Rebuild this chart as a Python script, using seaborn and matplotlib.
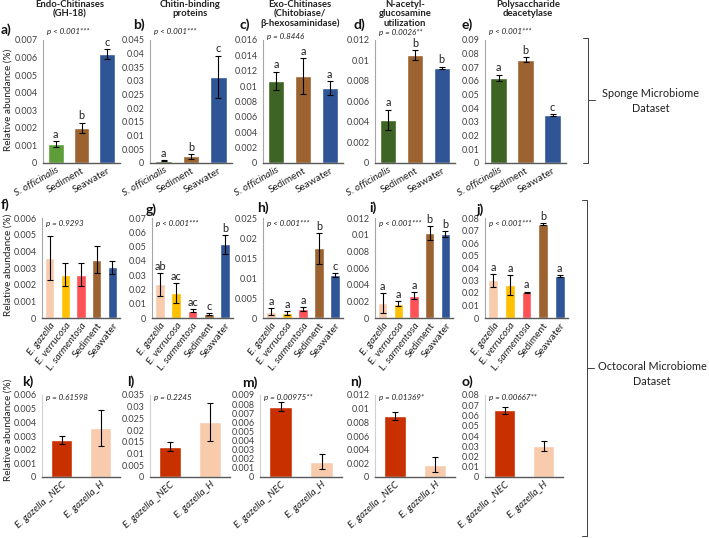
import matplotlib
matplotlib.use("Agg")
import matplotlib.pyplot as plt
import numpy as np
import seaborn as sns

sns.set_style("white")
plt.rcParams['font.family'] = ['Lato', 'DejaVu Sans']

# ---- data ----
sponge_cats = ["S. officinalis", "Sediment", "Seawater"]
octo_cats = ["E. gazella", "E. verrucosa", "L. sarmentosa", "Sediment", "Seawater"]
nec_cats = ["E. gazella _NEC", "E. gazella_H"]

a_vals = [0.00108, 0.0020, 0.0062]
a_errs = [0.00015, 0.0003, 0.0003]
b_vals = [0.0009, 0.0024, 0.0316]
b_errs = [0.0002, 0.0008, 0.0077]
c_vals = [0.0107, 0.0113, 0.0098]
c_errs = [0.0012, 0.0023, 0.0009]
d_vals = [0.0042, 0.0105, 0.0093]
d_errs = [0.0010, 0.0005, 0.0001]
e_vals = [0.0622, 0.0757, 0.0352]
e_errs = [0.0025, 0.0020, 0.0005]

f_vals = [0.0036, 0.0026, 0.0026, 0.0035, 0.00305]
f_errs = [0.0013, 0.0007, 0.0007, 0.0008, 0.0004]
g_vals = [0.0235, 0.0175, 0.0050, 0.0025, 0.0515]
g_errs = [0.0080, 0.0070, 0.0010, 0.0007, 0.0065]
h_vals = [0.0016, 0.0013, 0.0023, 0.0174, 0.0108]
h_errs = [0.0009, 0.0005, 0.0005, 0.0039, 0.0005]
i_vals = [0.0018, 0.0017, 0.0027, 0.0102, 0.0101]
i_errs = [0.0012, 0.0003, 0.0004, 0.0008, 0.0004]
j_vals = [0.0302, 0.0265, 0.0205, 0.0750, 0.0335]
j_errs = [0.0050, 0.0080, 0.0007, 0.0007, 0.0007]

k_vals = [0.0027, 0.0036]
k_errs = [0.0003, 0.0013]
l_vals = [0.0130, 0.0235]
l_errs = [0.0020, 0.0080]
m_vals = [0.0077, 0.0017]
m_errs = [0.0005, 0.0008]
n_vals = [0.0089, 0.0018]
n_errs = [0.0006, 0.0011]
o_vals = [0.0650, 0.0305]
o_errs = [0.0035, 0.0050]

a_letters = ["a", "b", "c"]
b_letters = ["a", "b", "c"]
c_letters = ["a", "a", "a"]
d_letters = ["a", "b", "b"]
e_letters = ["a", "b", "c"]
f_letters = None
g_letters = ["ab", "ac", "ac", "c", "b"]
h_letters = ["a", "a", "a", "b", "c"]
i_letters = ["a", "a", "a", "b", "b"]
j_letters = ["a", "a", "a", "b", "a"]

p_row1 = ["p < 0.001***", "p < 0.001***", "p = 0.8446", "p = 0.0026**", "p < 0.001***"]
p_row2 = ["p = 0.9293", "p < 0.001***", "p < 0.001***", "p < 0.001***", "p < 0.001***"]
p_row3 = ["p = 0.61598", "p = 0.2245", "p = 0.00975**", "p = 0.01369*", "p = 0.00667**"]

ymax_row1 = [0.007, 0.045, 0.016, 0.012, 0.09]
step_row1 = [0.001, 0.005, 0.002, 0.002, 0.01]
ymax_row2 = [0.006, 0.07, 0.025, 0.012, 0.08]
step_row2 = [0.001, 0.01, 0.005, 0.002, 0.01]
ymax_row3 = [0.006, 0.035, 0.009, 0.012, 0.08]
step_row3 = [0.001, 0.005, 0.001, 0.002, 0.01]

titles = ["Endo-Chitinases\n(GH-18)", "Chitin-binding\nproteins",
          "Exo-Chitinases\n(Chitobiase/\nβ-hexosaminidase)",
          "N-acetyl-\nglucosamine\nutilization", "Polysaccharide\ndeacetylase"]

green_light = "#5E9E3A"
green = "#3D6424"
brown = "#9C6331"
blue = "#2F5597"
peach = "#F8CBAD"
yellow = "#FFC000"
red = "#FF5257"
nec = "#C93000"

W, H = 709, 538
fig = plt.figure(figsize=(W / 100, H / 100), dpi=100)


def box(x0, y0, x1, y1):
    return fig.add_axes([x0 / W, 1 - y1 / H, (x1 - x0) / W, (y1 - y0) / H])


def fmt(v):
    return "{:g}".format(round(v, 6))


def panel(ax, cats, vals, errs, colors, ymax, step, ptxt, letters=None,
          italic=None, width=0.6, light_axis=False, p_y=1.05, rot=45):
    sns.barplot(x=cats, y=vals, hue=cats, palette=dict(zip(cats, colors)),
                legend=False, ax=ax, width=width, saturation=1, errorbar=None)
    ax.errorbar(range(len(cats)), vals, yerr=errs, fmt='none', ecolor='black',
                elinewidth=0.8, capsize=2, capthick=0.8)
    ax.set_ylim(0, ymax)
    ax.set_xlim(-0.5, len(cats) - 0.5)
    ticks = np.arange(0, ymax + step / 2, step)
    ax.set_yticks(ticks)
    ax.set_yticklabels([fmt(t) for t in ticks], fontsize=6.5, color="#404040")
    ax.set_xticks(range(len(cats)))
    ax.set_xticklabels(cats, rotation=rot, ha='right', rotation_mode='anchor',
                       fontsize=7.2, color="#202020")
    for lab in ax.get_xticklabels():
        if italic is None or lab.get_text() in italic:
            lab.set_style('italic')
    ax.set_xlabel("")
    ax.set_ylabel("")
    for s in ["top", "right"]:
        ax.spines[s].set_visible(False)
    ax.spines["bottom"].set_color("#595959")
    ax.spines["bottom"].set_linewidth(1.0)
    ax.spines["left"].set_color("#D0D0D0" if light_axis else "#A6A6A6")
    ax.spines["left"].set_linewidth(0.8)
    ax.tick_params(axis='y', length=2, width=0.6, color="#A6A6A6", pad=2)
    ax.tick_params(axis='x', length=0, pad=2)
    ax.text(0.05, p_y, ptxt, transform=ax.transAxes, fontsize=5.8,
            style='italic', va='center', ha='left', color="#202020")
    if letters:
        for k, (v, e, t) in enumerate(zip(vals, errs, letters)):
            ax.text(k, v + e + ymax * 0.01, t, ha='center', va='bottom',
                    fontsize=7.8, color="#202020")


row1_boxes = [(43, 40, 120, 163), (150, 40, 232, 163), (263, 40, 343, 163),
              (375, 40, 455, 163), (485, 40, 566, 163)]
row2_boxes = [(42, 218, 120, 318), (152, 218, 233, 318), (263, 218, 343, 318),
              (375, 218, 453, 318), (485, 218, 568, 318)]
row3_boxes = [(42, 395, 120, 477), (150, 395, 230, 477), (260, 395, 342, 477),
              (375, 395, 455, 477), (485, 395, 563, 477)]

row1_data = [(a_vals, a_errs, a_letters), (b_vals, b_errs, b_letters),
             (c_vals, c_errs, c_letters), (d_vals, d_errs, d_letters),
             (e_vals, e_errs, e_letters)]
row2_data = [(f_vals, f_errs, f_letters), (g_vals, g_errs, g_letters),
             (h_vals, h_errs, h_letters), (i_vals, i_errs, i_letters),
             (j_vals, j_errs, j_letters)]
row3_data = [(k_vals, k_errs), (l_vals, l_errs), (m_vals, m_errs),
             (n_vals, n_errs), (o_vals, o_errs)]

p1_y = [1.07, 1.07, 1.025, 1.058, 1.07]
for idx, (bx, (v, e, lt)) in enumerate(zip(row1_boxes, row1_data)):
    ax = box(*bx)
    cols = [green_light if idx == 0 else green, brown, blue]
    panel(ax, sponge_cats, v, e, cols, ymax_row1[idx], step_row1[idx],
          p_row1[idx], lt, italic=["S. officinalis"], p_y=p1_y[idx], rot=30)

for idx, (bx, (v, e, lt)) in enumerate(zip(row2_boxes, row2_data)):
    ax = box(*bx)
    cols = [peach, yellow, red, brown, blue]
    panel(ax, octo_cats, v, e, cols, ymax_row2[idx], step_row2[idx],
          p_row2[idx], lt, italic=["E. gazella", "E. verrucosa", "L. sarmentosa"],
          p_y=0.95, rot=52)

for idx, (bx, (v, e)) in enumerate(zip(row3_boxes, row3_data)):
    ax = box(*bx)
    panel(ax, nec_cats, v, e, [nec, peach], ymax_row3[idx], step_row3[idx],
          p_row3[idx], None, width=0.55, light_axis=True, p_y=0.97, rot=42)

# overlay for titles, panel letters and brackets
ov = fig.add_axes([0, 0, 1, 1])
ov.set_xlim(0, W)
ov.set_ylim(H, 0)
ov.axis('off')

title_x = [70, 190, 300, 405, 528]
for tx, t in zip(title_x, titles):
    ov.text(tx, 0, t, ha='center', va='top', fontsize=6.8, fontweight='bold',
            color="#202020", linespacing=1.05)

panel_letters = [("a)", 1, 30), ("b)", 133, 25), ("c)", 240, 25), ("d)", 353, 25),
                 ("e)", 462, 25), ("f)", 1, 205), ("g)", 146, 210), ("h)", 257, 208),
                 ("i)", 369, 208), ("j)", 477, 210), ("k)", 22, 382), ("l)", 127, 382),
                 ("m)", 242, 383), ("n)", 350, 382), ("o)", 461, 382)]
for t, x, y in panel_letters:
    ov.text(x, y, t, ha='left', va='center', fontsize=10, fontweight='bold',
            color="#101010")

for yc in [100, 265, 430]:
    ov.text(8, yc, "Relative abundance (%)", rotation=90, ha='center',
            va='center', fontsize=7.2, color="#202020")

br_col = "#404040"
ov.plot([583, 588, 588, 583], [38, 38, 163, 163], color=br_col, lw=0.7)
ov.plot([588, 595], [100, 100], color=br_col, lw=0.7)
ov.text(651, 101, "Sponge Microbiome\nDataset", ha='center', va='center',
        fontsize=7.8, color="#202020", linespacing=1.35)
ov.plot([582, 587, 587, 582], [200, 200, 536, 536], color=br_col, lw=0.7)
ov.plot([587, 594], [368, 368], color=br_col, lw=0.7)
ov.text(652, 374, "Octocoral Microbiome\nDataset", ha='center', va='center',
        fontsize=7.8, color="#202020", linespacing=1.35)

fig.savefig("out.png", dpi=100)
